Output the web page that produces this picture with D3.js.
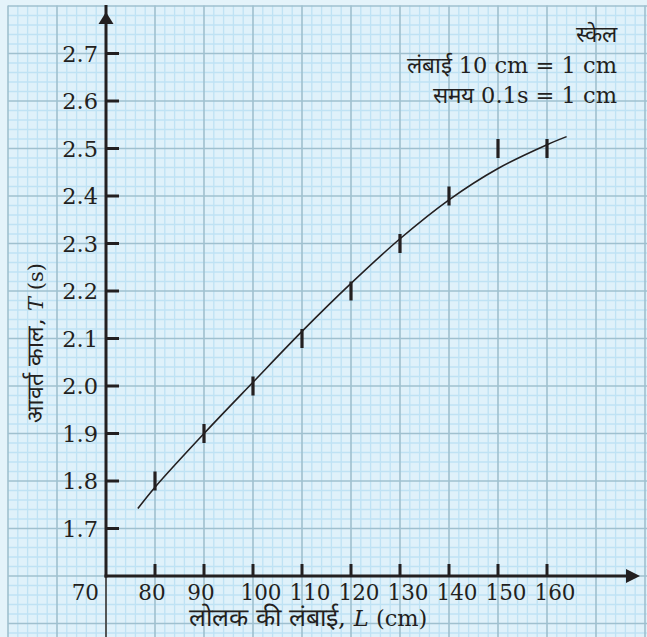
<!DOCTYPE html>
<html lang="hi">
<head>
<meta charset="UTF-8">
<title>आवर्त काल बनाम लोलक की लंबाई</title>
<script src="https://d3js.org/d3.v7.min.js"></script>
<style>
  body { margin: 0; background: #e4f3fa; }
  svg { display: block; }
  text { font-family: "DejaVu Serif", "Noto Serif", serif; fill: #231f20; }
</style>
</head>
<body>
<svg id="chart" width="647" height="637"></svg>
<script>
// मापे गए मान: लंबाई (cm) और आवर्त काल (s)
const lengths = [80, 90, 100, 110, 120, 130, 140, 150, 160];
const periods = [1.80, 1.90, 2.00, 2.10, 2.20, 2.30, 2.40, 2.50, 2.50];
const errT = 0.02;

// हाथ से खींचा गया वक्र (चित्र से पढ़े बिंदु)
const curveL = [76.5, 80, 90, 100, 110, 120, 130, 140, 150, 160, 164];
const curveT = [1.742, 1.787, 1.90, 2.008, 2.115, 2.216, 2.31, 2.392, 2.458, 2.508, 2.525];

const xTicks = [80, 90, 100, 110, 120, 130, 140, 150, 160];
const yTicks = [1.7, 1.8, 1.9, 2.0, 2.1, 2.2, 2.3, 2.4, 2.5, 2.6, 2.7];

const svg = d3.select("#chart");
const W = 647, H = 637;

const x = d3.scaleLinear().domain([70, 160]).range([106, 547]);
const y = d3.scaleLinear().domain([1.6, 2.7]).range([576, 53.5]);

// ग्राफ़ पेपर
const paper = svg.append("g");
const gx0 = 8, gy0 = 5.5;
paper.append("rect")
  .attr("x", gx0).attr("y", gy0)
  .attr("width", W - gx0).attr("height", H - gy0)
  .attr("fill", "#dff1fa");

// लघु रेखाएँ: हर 2 cm और 0.02 s
for (let i = 0; i <= 66; i++) {
  const L = 50 + i * 2;
  if (i % 5 === 0) continue;
  paper.append("line")
    .attr("x1", x(L)).attr("x2", x(L))
    .attr("y1", gy0).attr("y2", H)
    .attr("stroke", "#bfe2f4").attr("stroke-width", 1.3);
}
for (let i = 0; i <= 70; i++) {
  const T = 1.4 + i * 0.02;
  if (i % 5 === 0) continue;
  const py = y(T);
  if (py < gy0) continue;
  paper.append("line")
    .attr("x1", gx0).attr("x2", W)
    .attr("y1", py).attr("y2", py)
    .attr("stroke", "#bfe2f4").attr("stroke-width", 1.3);
}
// मुख्य रेखाएँ: हर 10 cm और 0.1 s
for (let L = 50; L <= 180; L += 10) {
  paper.append("line")
    .attr("x1", x(L)).attr("x2", x(L))
    .attr("y1", gy0).attr("y2", H)
    .attr("stroke", "#9fc0cf").attr("stroke-width", 1.6);
}
for (let i = 0; i <= 14; i++) {
  const py = y(1.4 + i * 0.1);
  if (py < gy0 - 1) continue;
  paper.append("line")
    .attr("x1", gx0).attr("x2", W)
    .attr("y1", py).attr("y2", py)
    .attr("stroke", "#9fc0cf").attr("stroke-width", 1.6);
}

// अक्ष
const ink = "#231f20";
const x0 = x(70), y0 = y(1.6);
svg.append("line")
  .attr("x1", x0).attr("x2", x0).attr("y1", y0).attr("y2", H)
  .attr("stroke", "#4a4a4a").attr("stroke-width", 1.8);
svg.append("line")
  .attr("x1", x0).attr("x2", x0).attr("y1", y0 + 1.5).attr("y2", 5)
  .attr("stroke", ink).attr("stroke-width", 3);
svg.append("line")
  .attr("x1", x0 - 1.5).attr("x2", 630).attr("y1", y0).attr("y2", y0)
  .attr("stroke", ink).attr("stroke-width", 3);
svg.append("path")
  .attr("d", `M${x0},12 L${x0 + 7.5},24 L${x0 - 7.5},24 Z`)
  .attr("fill", ink);
svg.append("path")
  .attr("d", `M640,${y0} L626,${y0 - 7} L626,${y0 + 7} Z`)
  .attr("fill", ink);

// टिक
svg.selectAll(".yt").data(yTicks).enter().append("line")
  .attr("x1", x0).attr("x2", x0 + 13)
  .attr("y1", d => y(d)).attr("y2", d => y(d))
  .attr("stroke", ink).attr("stroke-width", 3);
svg.selectAll(".xt").data(xTicks).enter().append("line")
  .attr("x1", d => x(d)).attr("x2", d => x(d))
  .attr("y1", y0).attr("y2", y0 - 12)
  .attr("stroke", ink).attr("stroke-width", 3);

svg.selectAll(".yl").data(yTicks).enter().append("text")
  .attr("x", x0 - 8).attr("y", d => y(d) + 8)
  .attr("text-anchor", "end")
  .style("font-size", "22.5px")
  .text(d => d.toFixed(1));
svg.selectAll(".xl").data(xTicks).enter().append("text")
  .attr("x", d => x(d) + (d >= 100 ? 8 : -3)).attr("y", y0 + 24)
  .attr("text-anchor", "middle")
  .style("font-size", "21.5px")
  .text(d => d);
svg.append("text")
  .attr("x", x0 - 7).attr("y", y0 + 24)
  .attr("text-anchor", "end")
  .style("font-size", "21.5px")
  .text("70");

// अक्ष शीर्षक
const xt = svg.append("text")
  .attr("x", 189).attr("y", 626)
  .style("font-size", "22.5px");
xt.append("tspan").style("font-size", "25px").text("लोलक की लंबाई, ");
xt.append("tspan").style("font-style", "italic").text("L");
xt.append("tspan").text(" (cm)");

const yt = svg.append("text")
  .attr("transform", `translate(43,343) rotate(-90)`)
  .attr("text-anchor", "middle")
  .style("font-size", "21px");
yt.append("tspan").style("font-size", "23px").text("आवर्त काल, ");
yt.append("tspan").style("font-style", "italic").text("T");
yt.append("tspan").text(" (s)");

// पैमाना
const scaleLines = ["स्केल", "लंबाई 10 cm = 1 cm", "समय 0.1s = 1 cm"];
svg.selectAll(".sc").data(scaleLines).enter().append("text")
  .attr("x", 617).attr("y", (d, i) => 42 + i * 30.5)
  .attr("text-anchor", "end")
  .style("font-size", "22.5px")
  .text(d => d);

// वक्र
const curvePts = curveL.map((L, i) => [L, curveT[i]]);
svg.append("path")
  .datum(curvePts)
  .attr("fill", "none")
  .attr("stroke", ink)
  .attr("stroke-width", 1.6)
  .attr("d", d3.line().x(d => x(d[0])).y(d => y(d[1])).curve(d3.curveCatmullRom));

// त्रुटि दंड
svg.selectAll(".err").data(lengths).enter().append("line")
  .attr("x1", d => x(d)).attr("x2", d => x(d))
  .attr("y1", (d, i) => y(periods[i] - errT))
  .attr("y2", (d, i) => y(periods[i] + errT))
  .attr("stroke", ink).attr("stroke-width", 3.2);
</script>
</body>
</html>
